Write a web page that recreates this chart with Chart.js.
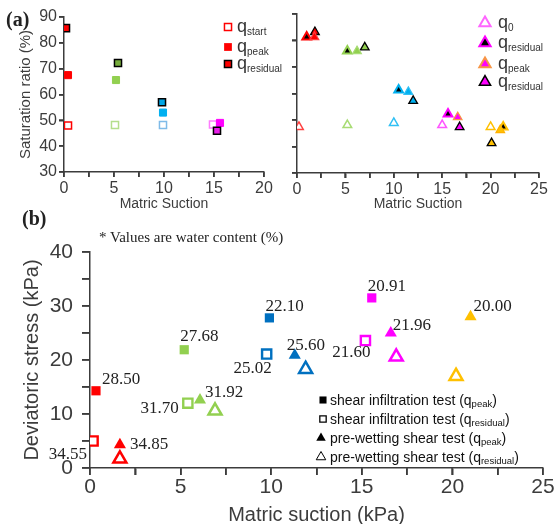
<!DOCTYPE html>
<html>
<head>
<meta charset="utf-8">
<script src="https://cdn.jsdelivr.net/npm/chart.js@4.4.0/dist/chart.umd.min.js"></script>
<style>
  body { margin: 0; width: 560px; height: 524px; overflow: hidden; background: #fff; position: relative; }
  canvas { position: absolute; }
  .tag { position: absolute; font-family: "Liberation Serif", "Times New Roman", serif; color: #222; z-index: 2; }
</style>
</head>
<body>
<canvas id="satLeft" width="300" height="216" style="left:0;top:0"></canvas>
<canvas id="satRight" width="280" height="216" style="left:280px;top:0"></canvas>
<canvas id="stress" width="560" height="298" style="left:0;top:226px"></canvas>
<div class="tag" style="left:6px;top:9px;font-size:20px;font-weight:bold;line-height:20px">(a)</div>
<div class="tag" style="left:22px;top:208px;font-size:20px;font-weight:bold;line-height:20px">(b)</div>
<div class="tag" style="left:99px;top:228px;font-size:15px;line-height:18px">* Values are water content (%)</div>
<script>
// (a) left - shear infiltration test, saturation ratio (%) vs matric suction
const suctionStart = [0.4, 5.1, 9.9, 14.9];
const satStart = [48.0, 48.2, 48.2, 48.4];
const suctionPeak = [0.4, 5.2, 9.9, 15.6];
const satPeak = [67.5, 65.6, 53.0, 49.0];
const suctionResidual = [0.2, 5.4, 9.8, 15.3];
const satResidual = [85.7, 72.2, 57.0, 46.0];

// (a) right - pre-wetting shear test
const pwSuction0 = [0.2, 5.2, 10.0, 15.0, 20.0];
const pwSat0 = [47.4, 48.1, 48.9, 48.1, 47.4];
const pwSuctionRes1 = [1.0, 5.2, 10.5, 15.6, 21.3];
const pwSatRes1 = [81.3, 76.0, 61.3, 52.3, 47.4];
const pwSuctionPeak = [1.8, 6.2, 11.5, 16.6, 21.0];
const pwSatPeak = [81.3, 76.0, 60.6, 51.1, 46.2];
const pwSuctionRes2 = [1.85, 7.0, 12.0, 16.8, 20.1];
const pwSatRes2 = [83.2, 77.4, 57.2, 47.3, 41.3];

// (b) deviatoric stress (kPa) vs matric suction (kPa), labels = water content (%)
const siSuctionPeak = [0.33, 5.2, 9.9, 15.55];
const siStressPeak = [14.3, 21.9, 27.8, 31.5];
const siWaterPeak = ['28.50', '27.68', '22.10', '20.91'];
const siSuctionRes = [0.17, 5.4, 9.75, 15.2];
const siStressRes = [5.0, 12.0, 21.1, 23.6];
const siWaterRes = ['34.55', '31.70', '25.02', '21.60'];
const pwSuctionPeakB = [1.65, 6.07, 11.3, 16.6, 21.0];
const pwStressPeak = [4.3, 12.6, 20.9, 25.0, 28.0];
const pwWaterPeak = ['34.85', '31.92', '25.60', '21.96', '20.00'];
const pwSuctionResB = [1.65, 6.9, 11.9, 16.9, 20.2];
const pwStressRes = [1.7, 10.6, 18.3, 20.6, 17.0];

// colours
const siFill = ['#ff0000', '#92d050', '#00b0f0', '#ff00ff'];
const siOpen = ['#ff0000', '#b4de8c', '#7fbbe8', '#ff7cff'];
const siResFill = ['#ff0000', '#77ad3c', '#00a6e6', '#e81ee8'];
const pwFill = ['#ff0000', '#92d050', '#00b0f0', '#ff00ff', '#ffc000'];
const pwPeakEdge = ['#ff4040', '#a8dc74', '#30c0f4', '#f79646', '#ffb000'];
const pwOpen = ['#ff4040', '#a8dc74', '#30c0f4', '#ff55ff', '#ffc000'];
const bColors = ['#ff0000', '#92d050', '#0070c0', '#ff00ff'];
const bTriColors = ['#ff0000', '#92d050', '#0070c0', '#ff00ff', '#ffc000'];

// label offsets [dx, dy, align]
const siPeakLabelPos = [[6, -11, 'left'], [-4, -13, 'left'], [-4, -11, 'left'], [-4, -11, 'left']];
const siResLabelPos = [[-6, 14, 'right'], [-9, 5, 'right'], [5, 14, 'right'], [5, 12, 'right']];
const pwPeakLabelPos = [[10, 0, 'left'], [5, -7, 'left'], [-8, -10, 'left'], [2, -7, 'left'], [3, -10, 'left']];

const pts = (xs, ys) => xs.map((x, i) => ({ x, y: ys[i] }));
const axisColor = '#3c3c3c';
Chart.defaults.font.family = '"Liberation Sans", Arial, sans-serif';
Chart.defaults.color = axisColor;

function drawMarker(ctx, shape, x, y, r, fill, stroke, lw) {
  ctx.save();
  ctx.beginPath();
  if (shape === 'rect') {
    const s = Math.SQRT1_2 * r;
    ctx.rect(x - s, y - s, 2 * s, 2 * s);
  } else {
    const a = 2 * Math.PI / 3;
    ctx.moveTo(x, y - r);
    ctx.lineTo(x + Math.sin(a) * r, y - Math.cos(a) * r);
    ctx.lineTo(x + Math.sin(2 * a) * r, y - Math.cos(2 * a) * r);
    ctx.closePath();
  }
  ctx.fillStyle = fill;
  ctx.fill();
  if (lw) { ctx.lineWidth = lw; ctx.strokeStyle = stroke; ctx.stroke(); }
  ctx.restore();
}

// outward tick marks at every scale tick
const tickMarks = {
  id: 'tickMarks',
  afterDraw(chart, args, opts) {
    const ctx = chart.ctx;
    Object.values(chart.scales).forEach(s => {
      const len = opts.len[s.id];
      ctx.save();
      ctx.strokeStyle = axisColor;
      ctx.lineWidth = 1.5;
      ctx.beginPath();
      s.ticks.forEach(t => {
        const p = Math.round(s.getPixelForValue(t.value));
        if (s.isHorizontal()) { ctx.moveTo(p, s.top); ctx.lineTo(p, s.top + len); }
        else { ctx.moveTo(s.right, p); ctx.lineTo(s.right - len, p); }
      });
      ctx.stroke();
      ctx.restore();
    });
  }
};

// legend with subscripts
const richLegend = {
  id: 'richLegend',
  afterDraw(chart, args, opts) {
    const ctx = chart.ctx;
    (opts.items || []).forEach(it => {
      drawMarker(ctx, it.shape, it.mx, it.my, it.r, it.fill, it.stroke, it.lw);
      ctx.save();
      ctx.fillStyle = opts.color;
      ctx.textBaseline = 'alphabetic';
      let x = opts.textX;
      ctx.font = opts.size + 'px "Liberation Sans", Arial, sans-serif';
      ctx.fillText(it.text, x, it.my + opts.base);
      x += ctx.measureText(it.text).width;
      ctx.font = opts.subSize + 'px "Liberation Sans", Arial, sans-serif';
      ctx.fillText(it.sub, x, it.my + opts.subBase);
      x += ctx.measureText(it.sub).width;
      if (it.after) {
        ctx.font = opts.size + 'px "Liberation Sans", Arial, sans-serif';
        ctx.fillText(it.after, x, it.my + opts.base);
      }
      ctx.restore();
    });
  }
};

// water content labels next to points
const pointLabels = {
  id: 'pointLabels',
  afterDatasetsDraw(chart) {
    const ctx = chart.ctx;
    chart.data.datasets.forEach((ds, i) => {
      if (!ds.waterLabels) return;
      chart.getDatasetMeta(i).data.forEach((el, j) => {
        const [dx, dy, align] = ds.labelPos[j];
        ctx.save();
        ctx.font = '17px "Liberation Serif", "Times New Roman", serif';
        ctx.fillStyle = '#222';
        ctx.textAlign = align;
        ctx.textBaseline = 'middle';
        ctx.fillText(ds.waterLabels[j], el.x + dx, el.y + dy);
        ctx.restore();
      });
    });
  }
};

function linAxis(min, max, step, labelEvery, cfg) {
  return {
    type: 'linear', min, max,
    ticks: {
      stepSize: step, autoSkip: false, maxRotation: 0, color: axisColor,
      font: { size: cfg.font }, padding: cfg.pad,
      callback: v => (cfg.noLabels || Math.abs(v % labelEvery) > 1e-6) ? '' : v
    },
    grid: {
      display: true, drawOnChartArea: false, drawTicks: true,
      tickLength: cfg.tick, tickColor: axisColor, tickWidth: 1.5,
      color: axisColor, lineWidth: 1.5
    },
    border: { display: true, color: axisColor, width: 1.5 },
    title: cfg.title ? { display: true, text: cfg.title, color: axisColor, font: { size: cfg.titleSize }, padding: cfg.titlePad } : { display: false },
    afterFit: s => { if (cfg.width) s.width = cfg.width; if (cfg.height) s.height = cfg.height; }
  };
}

const common = {
  responsive: false, animation: false, devicePixelRatio: 1
};
const basePlugins = { legend: { display: false }, tooltip: { enabled: false } };

new Chart(document.getElementById('satLeft'), {
  type: 'scatter',
  data: {
    datasets: [
      { data: pts(suctionResidual, satResidual), pointStyle: 'rect', pointRadius: 5, pointBackgroundColor: siResFill, pointBorderColor: '#000', pointBorderWidth: 1.5 },
      { data: pts(suctionPeak, satPeak), pointStyle: 'rect', pointRadius: 5, pointBackgroundColor: siFill, pointBorderColor: siFill, pointBorderWidth: 1 },
      { data: pts(suctionStart, satStart), pointStyle: 'rect', pointRadius: 5, pointBackgroundColor: '#fff', pointBorderColor: siOpen, pointBorderWidth: 1.5 }
    ]
  },
  options: {
    ...common,
    layout: { padding: { top: 17, right: 36, left: 0, bottom: 0 } },
    scales: {
      x: linAxis(0, 20, 2.5, 5, { font: 16, pad: 2, tick: 5, title: 'Matric Suction', titleSize: 14, titlePad: { top: 0, bottom: 3 }, height: 44 }),
      y: linAxis(30, 90, 10, 10, { font: 16, pad: 2, tick: 5, title: 'Saturation ratio (%)', titleSize: 15, titlePad: { top: 17, bottom: 0 }, width: 64 })
    },
    plugins: {
      ...basePlugins,
      tickMarks: { len: { x: 5, y: 5 } },
      richLegend: {
        textX: 237, size: 18, subSize: 10, base: 5, subBase: 8, color: '#333',
        items: [
          { mx: 228, my: 27, shape: 'rect', r: 5, fill: '#fff', stroke: '#ff0000', lw: 1.5, text: 'q', sub: 'start' },
          { mx: 228, my: 47, shape: 'rect', r: 5.5, fill: '#ff0000', stroke: '#ff0000', lw: 0, text: 'q', sub: 'peak' },
          { mx: 228, my: 64, shape: 'rect', r: 5, fill: '#ff0000', stroke: '#000', lw: 1.5, text: 'q', sub: 'residual' }
        ]
      }
    }
  },
  plugins: [tickMarks, richLegend]
});

new Chart(document.getElementById('satRight'), {
  type: 'scatter',
  data: {
    datasets: [
      { data: pts(pwSuctionPeak, pwSatPeak), pointStyle: 'triangle', pointRadius: 5, pointBackgroundColor: pwFill, pointBorderColor: pwPeakEdge, pointBorderWidth: 1.2 },
      { data: pts(pwSuctionRes1, pwSatRes1), pointStyle: 'triangle', pointRadius: 5, pointBackgroundColor: '#000', pointBorderColor: pwFill, pointBorderWidth: 2 },
      { data: pts(pwSuctionRes2, pwSatRes2), pointStyle: 'triangle', pointRadius: 5, pointBackgroundColor: pwFill, pointBorderColor: '#000', pointBorderWidth: 1.3 },
      { data: pts(pwSuction0, pwSat0), pointStyle: 'triangle', pointRadius: 5, pointBackgroundColor: '#fff', pointBorderColor: pwOpen, pointBorderWidth: 1.5 }
    ]
  },
  options: {
    ...common,
    layout: { padding: { top: 14, right: 21, left: 0, bottom: 0 } },
    scales: {
      x: linAxis(0, 25, 2.5, 5, { font: 16, pad: 2, tick: 5, title: 'Matric Suction', titleSize: 14, titlePad: { top: 0, bottom: 3 }, height: 43 }),
      y: linAxis(30, 90, 10, 10, { font: 16, pad: 2, tick: 5, noLabels: true, width: 17 })
    },
    plugins: {
      ...basePlugins,
      tickMarks: { len: { x: 5, y: 5 } },
      richLegend: {
        textX: 218, size: 18, subSize: 10, base: 5, subBase: 8, color: '#333',
        items: [
          { mx: 205, my: 23, shape: 'tri', r: 6.5, fill: '#fff', stroke: '#ff66ff', lw: 2, text: 'q', sub: '0' },
          { mx: 205, my: 43, shape: 'tri', r: 6.5, fill: '#000', stroke: '#ff00ff', lw: 2, text: 'q', sub: 'residual' },
          { mx: 205, my: 64, shape: 'tri', r: 6.5, fill: '#ff00ff', stroke: '#f79646', lw: 2, text: 'q', sub: 'peak' },
          { mx: 205, my: 82, shape: 'tri', r: 6.5, fill: '#ff00ff', stroke: '#000', lw: 1.5, text: 'q', sub: 'residual' }
        ]
      }
    }
  },
  plugins: [tickMarks, richLegend]
});

new Chart(document.getElementById('stress'), {
  type: 'scatter',
  data: {
    datasets: [
      { data: pts(siSuctionPeak, siStressPeak), waterLabels: siWaterPeak, labelPos: siPeakLabelPos, pointStyle: 'rect', pointRadius: 6.5, pointBackgroundColor: bColors, pointBorderColor: bColors, pointBorderWidth: 0 },
      { data: pts(siSuctionRes, siStressRes), waterLabels: siWaterRes, labelPos: siResLabelPos, pointStyle: 'rect', pointRadius: 6.5, pointBackgroundColor: '#fff', pointBorderColor: bColors, pointBorderWidth: 2.4 },
      { data: pts(pwSuctionPeakB, pwStressPeak), waterLabels: pwWaterPeak, labelPos: pwPeakLabelPos, pointStyle: 'triangle', pointRadius: 7, pointBackgroundColor: bTriColors, pointBorderColor: bTriColors, pointBorderWidth: 0 },
      { data: pts(pwSuctionResB, pwStressRes), pointStyle: 'triangle', pointRadius: 7.5, pointBackgroundColor: '#fff', pointBorderColor: bTriColors, pointBorderWidth: 2.5 }
    ]
  },
  options: {
    ...common,
    layout: { padding: { top: 26, right: 17, left: 0, bottom: 0 } },
    scales: {
      x: linAxis(0, 25, 2.5, 5, { font: 21, pad: 0, tick: 7, title: 'Matric suction (kPa)', titleSize: 20, titlePad: { top: 0, bottom: -3 }, height: 56 }),
      y: linAxis(0, 40, 5, 10, { font: 21, pad: 9, tick: 8, title: 'Deviatoric stress (kPa)', titleSize: 20, titlePad: { top: 20, bottom: 0 }, width: 90 })
    },
    plugins: {
      ...basePlugins,
      tickMarks: { len: { x: 7, y: 8 } },
      richLegend: {
        textX: 330, size: 14, subSize: 9.5, base: 5, subBase: 7, color: '#111',
        items: [
          { mx: 323, my: 174, shape: 'rect', r: 5, fill: '#000', stroke: '#000', lw: 0, text: 'shear infiltration test (q', sub: 'peak', after: ')' },
          { mx: 323, my: 193, shape: 'rect', r: 4.5, fill: '#fff', stroke: '#000', lw: 1.3, text: 'shear infiltration test (q', sub: 'residual', after: ')' },
          { mx: 321, my: 212, shape: 'tri', r: 5.5, fill: '#000', stroke: '#000', lw: 0, text: 'pre-wetting shear test (q', sub: 'peak', after: ')' },
          { mx: 321, my: 231, shape: 'tri', r: 5.5, fill: '#fff', stroke: '#000', lw: 1, text: 'pre-wetting shear test (q', sub: 'residual', after: ')' }
        ]
      }
    }
  },
  plugins: [tickMarks, richLegend, pointLabels]
});
</script>
</body>
</html>
